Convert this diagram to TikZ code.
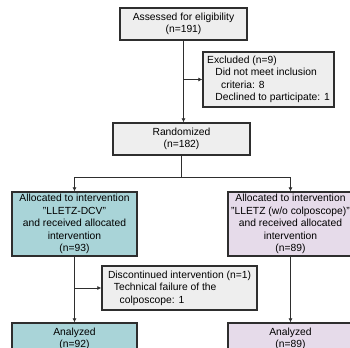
\documentclass[tikz,border=0pt]{standalone}
\usepackage{fontspec}
\setmainfont{Liberation Sans}
\usepackage{tikz}
\usetikzlibrary{arrows.meta}
\definecolor{boxgray}{HTML}{EEEEEE}
\definecolor{armteal}{HTML}{A9D4D8}
\definecolor{armlilac}{HTML}{E6DBEA}
\definecolor{rulegray}{HTML}{2E2E2E}

\begin{document}
\begin{tikzpicture}[x=0.03cm,y=-0.03cm]
\tikzstyle{every node}=[font=\fontsize{8.8}{10.6}\selectfont,inner sep=2pt]
\tikzstyle{flowbox}=[draw=rulegray,line width=1pt,align=center]
\tikzstyle{flowline}=[draw=rulegray,line width=0.7pt,arrows={-{Latex[length=3.5pt,width=3.5pt]}}]
\clip (0,0) rectangle (350,348);
\useasboundingbox (0,0) rectangle (350,348);
% enrolment
\node[flowbox,fill=boxgray,minimum width=3.81cm,minimum height=0.96cm] (assess) at (183.5,24)
  {Assessed for eligibility\\(n=191)};
\node[flowbox,fill=boxgray,minimum width=3.93cm,minimum height=1.65cm,align=left] (excl) at (268.5,79.5)
  {\hspace*{0pt}Excluded (n=9)\\
   \hspace*{7pt}Did not meet inclusion\\
   \hspace*{12pt}criteria: 8\\
   \hspace*{7pt}Declined to participate: 1};
\node[flowbox,fill=boxgray,minimum width=4.11cm,minimum height=0.96cm] (rand) at (181.5,139)
  {Randomized\\(n=182)};
% allocation
\node[flowbox,fill=armteal,minimum width=3.75cm,minimum height=1.74cm] (alloca) at (74.5,224)
  {Allocated to intervention\\"LLETZ-DCV"\\and received allocated\\intervention\\(n=93)};
\node[flowbox,fill=armlilac,minimum width=3.75cm,minimum height=1.74cm] (allocb) at (290.5,224)
  {Allocated to intervention\\"LLETZ (w/o colposcope)"\\and received allocated\\intervention\\(n=89)};
\node[flowbox,fill=boxgray,minimum width=4.65cm,minimum height=1.32cm,align=left] (disc) at (179.5,288)
  {Discontinued intervention (n=1)\\
   \hspace*{5pt}Technical failure of the\\
   \hspace*{10pt}colposcope: 1};
% analysis
\node[flowbox,fill=armteal,minimum width=3.75cm,minimum height=0.96cm] (anala) at (74.5,339)
  {Analyzed\\(n=92)};
\node[flowbox,fill=armlilac,minimum width=3.75cm,minimum height=0.96cm] (analb) at (290.5,339)
  {Analyzed\\(n=89)};
\coordinate (split) at (rand.south |- 0,177);
\path[flowline] (assess.south) -- (assess.south |- rand.north);
\path[flowline] (assess.south |- excl.west) -- (excl.west);
\draw[rulegray,line width=0.7pt] (rand.south) -- (split);
\path[flowline] (split) -| (alloca.north);
\path[flowline] (split) -| (allocb.north);
\path[flowline] (alloca.south) -- (anala.north);
\path[flowline] (alloca.south |- disc.west) -- (disc.west);
\path[flowline] (allocb.south) -- (analb.north);
\end{tikzpicture}
\end{document}
